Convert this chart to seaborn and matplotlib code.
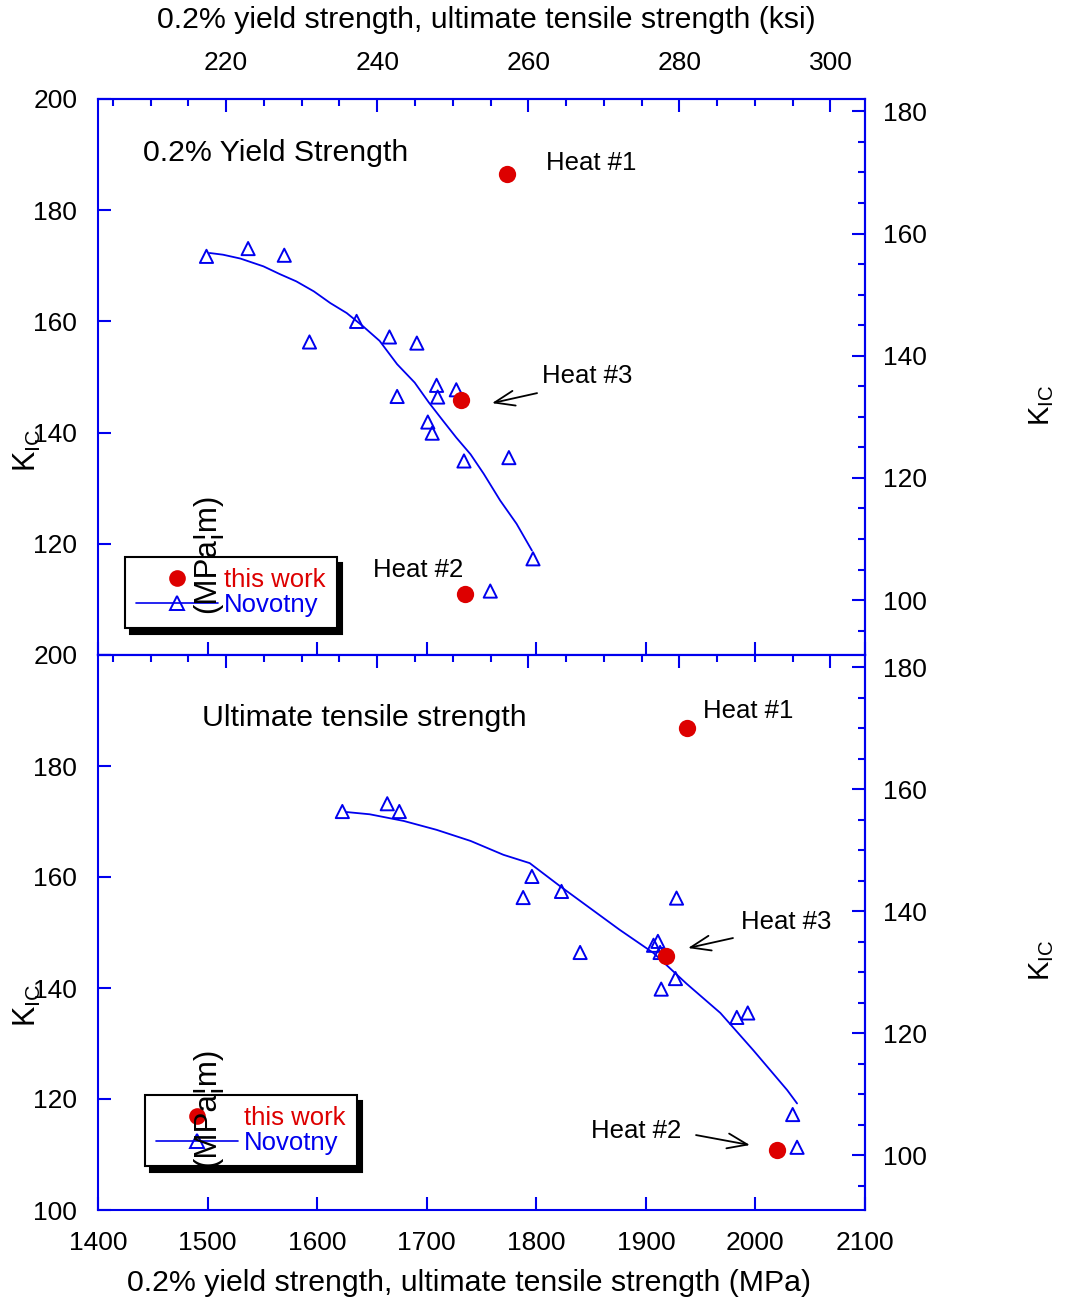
import matplotlib
matplotlib.use("Agg")
import matplotlib.pyplot as plt
import seaborn as sns
from matplotlib.ticker import MultipleLocator, FuncFormatter, NullFormatter
from matplotlib.lines import Line2D

# ---------------- data ----------------
# Upper panel: K_IC vs 0.2% yield strength (MPa)
ys_novotny_mpa = [1499, 1537, 1570, 1593, 1636, 1666, 1691, 1673, 1709, 1710,
                  1727, 1701, 1705, 1734, 1775, 1797, 1758]
ys_novotny_kic = [171.7, 173.1, 171.9, 156.3, 160.0, 157.2, 156.1, 146.5, 148.5, 146.4,
                  147.7, 141.9, 139.9, 134.9, 135.5, 117.3, 111.5]
ys_fit_mpa = [1502, 1514, 1530, 1551, 1566, 1581, 1597, 1612, 1627, 1642, 1657,
              1673, 1689, 1702, 1715, 1727, 1740, 1752, 1767, 1782, 1796]
ys_fit_kic = [172.3, 172.0, 171.3, 169.9, 168.5, 167.2, 165.4, 163.3, 161.5, 159.1, 156.5,
              152.3, 149.0, 145.4, 142.1, 139.1, 136.1, 132.6, 127.8, 123.6, 118.8]
ys_this_mpa = [1773, 1731, 1735]
ys_this_kic = [186.6, 145.8, 110.9]

# Lower panel: K_IC vs ultimate tensile strength (MPa)
uts_novotny_mpa = [1623, 1664, 1675, 1796, 1788, 1823, 1928, 1840, 1907, 1911,
                   1913, 1927, 1914, 1983, 1993, 2034, 2038]
uts_novotny_kic = [171.8, 173.2, 171.8, 160.1, 156.3, 157.4, 156.2, 146.4, 147.7, 148.4,
                   146.4, 141.7, 139.8, 134.7, 135.5, 117.2, 111.3]
uts_fit_mpa = [1627, 1648, 1679, 1709, 1740, 1770, 1794, 1822, 1849, 1876, 1907,
               1937, 1968, 1998, 2029, 2038]
uts_fit_kic = [171.7, 171.3, 170.1, 168.5, 166.5, 164.0, 162.5, 158.3, 154.4, 150.5, 146.3,
               140.8, 135.5, 128.8, 121.6, 119.2]
uts_this_mpa = [1938, 1918, 2020]
uts_this_kic = [186.8, 145.8, 110.8]

panel_titles = ["0.2% Yield Strength", "Ultimate tensile strength"]
legend_labels = ["this work", "Novotny"]
heat_labels = ["Heat #1", "Heat #3", "Heat #2"]
xticks_mpa = [1400, 1500, 1600, 1700, 1800, 1900, 2000, 2100]

# ---------------- style ----------------
sns.set_style("white")
plt.rcParams["font.family"] = ["Liberation Sans", "DejaVu Sans"]
plt.rcParams["text.color"] = "black"
plt.rcParams["axes.labelcolor"] = "black"
plt.rcParams["mathtext.fontset"] = "custom"
plt.rcParams["mathtext.rm"] = "Liberation Sans"
plt.rcParams["mathtext.it"] = "Liberation Sans:italic"
plt.rcParams["mathtext.bf"] = "Liberation Sans:bold"

BLUE = "#0000ee"
RED = "#dd0000"
W, H = 1067, 1304
MPA_PER_KSI = 6.895
MPAM_PER_KSIIN = 1.0988
TICKFS = 19

fig = plt.figure(figsize=(W / 100, H / 100), dpi=100)


def px_rect(x0, y0, x1, y1):
    return [x0 / W, 1 - y1 / H, (x1 - x0) / W, (y1 - y0) / H]


ax1 = fig.add_axes(px_rect(98, 99, 865, 655))
ax2 = fig.add_axes(px_rect(98, 655, 865, 1210))

TICK = dict(direction="in", colors=BLUE, labelcolor="black", labelsize=TICKFS, width=1.5)


def style_panel(ax, bottom_labels, top_labels, hide_100):
    ax.set_xlim(1400, 2100)
    ax.set_ylim(100, 200)
    ax.set_xticks(xticks_mpa)
    ax.xaxis.set_minor_locator(MultipleLocator(20))
    ax.yaxis.set_major_locator(MultipleLocator(20))
    ax.yaxis.set_minor_locator(MultipleLocator(5))
    ax.set_xlabel("")
    ax.set_ylabel("")
    for s in ax.spines.values():
        s.set_color(BLUE)
        s.set_linewidth(1.5)
    ax.tick_params(axis="x", which="major", length=9.5, pad=15, **TICK)
    ax.tick_params(axis="y", which="major", length=9.5, pad=15, **TICK)
    ax.tick_params(axis="both", which="minor", length=5, **TICK)
    ax.tick_params(top=False, right=False, bottom=True, left=True,
                   labelbottom=bottom_labels)
    if hide_100:
        ax.yaxis.set_major_formatter(
            FuncFormatter(lambda v, p: "" if v < 110 else f"{v:.0f}"))
    # top axis in ksi
    sec = ax.secondary_xaxis("top", functions=(lambda m: m / MPA_PER_KSI,
                                                lambda k: k * MPA_PER_KSI))
    sec.xaxis.set_major_locator(MultipleLocator(20))
    sec.xaxis.set_minor_locator(MultipleLocator(5))
    sec.tick_params(axis="x", which="major", length=9.5, pad=17, **TICK)
    sec.tick_params(axis="x", which="minor", length=5, **TICK)
    if not top_labels:
        sec.xaxis.set_major_formatter(NullFormatter())
    for s in sec.spines.values():
        s.set_color(BLUE)
        s.set_linewidth(1.5)
    # right axis in ksi*sqrt(in)
    secy = ax.secondary_yaxis("right", functions=(lambda v: v / MPAM_PER_KSIIN,
                                                   lambda v: v * MPAM_PER_KSIIN))
    secy.yaxis.set_major_locator(MultipleLocator(20))
    secy.yaxis.set_minor_locator(MultipleLocator(5))
    secy.tick_params(axis="y", which="major", length=9.5, pad=13, **TICK)
    secy.tick_params(axis="y", which="minor", length=5, **TICK)
    for s in secy.spines.values():
        s.set_color(BLUE)
        s.set_linewidth(1.5)


def draw_data(ax, fit_x, fit_y, nov_x, nov_y, this_x, this_y):
    sns.lineplot(x=fit_x, y=fit_y, sort=False, estimator=None, color=BLUE,
                 linewidth=1.3, ax=ax, zorder=2)
    sns.scatterplot(x=nov_x, y=nov_y, marker="^", s=90, facecolor="none",
                    edgecolor=BLUE, linewidth=1.4, ax=ax, zorder=3)
    sns.scatterplot(x=this_x, y=this_y, marker="o", s=155, color=RED,
                    edgecolor=RED, linewidth=0, ax=ax, zorder=4)


draw_data(ax1, ys_fit_mpa, ys_fit_kic, ys_novotny_mpa, ys_novotny_kic,
          ys_this_mpa, ys_this_kic)
draw_data(ax2, uts_fit_mpa, uts_fit_kic, uts_novotny_mpa, uts_novotny_kic,
          uts_this_mpa, uts_this_kic)

style_panel(ax1, bottom_labels=False, top_labels=True, hide_100=True)
style_panel(ax2, bottom_labels=True, top_labels=False, hide_100=False)

# panel titles
ax1.text(1441, 190.3, panel_titles[0], fontsize=21.8, va="center", ha="left")
ax2.text(1495, 188.6, panel_titles[1], fontsize=21.8, va="center", ha="left")

ARROW = dict(arrowstyle="->,head_length=0.8,head_width=0.3", color="black",
             lw=1.3, mutation_scale=18, shrinkA=0, shrinkB=0)
HFS = 18.5
# upper annotations
ax1.text(1809, 188.5, heat_labels[0], fontsize=HFS, va="center", ha="left")
ax1.text(1805, 150.2, heat_labels[1], fontsize=HFS, va="center", ha="left")
ax1.annotate("", xy=(1759.6, 145.3), xytext=(1800.7, 147.1), arrowprops=ARROW)
ax1.text(1651, 115.2, heat_labels[2], fontsize=HFS, va="center", ha="left")
# lower annotations
ax2.text(1952, 189.9, heat_labels[0], fontsize=HFS, va="center", ha="left")
ax2.text(1987, 151.9, heat_labels[1], fontsize=HFS, va="center", ha="left")
ax2.annotate("", xy=(1938.5, 147.2), xytext=(1979.5, 149.0), arrowprops=ARROW)
ax2.text(1850, 114.2, heat_labels[2], fontsize=HFS, va="center", ha="left")
ax2.annotate("", xy=(1995, 111.7), xytext=(1945.8, 113.5), arrowprops=ARROW)

# legends
handles = [
    Line2D([], [], marker="o", linestyle="none", color=RED, markersize=12,
           markeredgewidth=0),
    Line2D([], [], marker="^", color=BLUE, linewidth=1.2, markersize=9.5,
           markerfacecolor="none", markeredgecolor=BLUE, markeredgewidth=1.4),
]
for ax, anchor in ((ax1, (0.035, 0.176)), (ax2, (0.061, 0.207))):
    leg = ax.legend(handles, legend_labels, loc="upper left", bbox_to_anchor=anchor,
                    borderaxespad=0, fontsize=18.5, handlelength=3.2,
                    handletextpad=0.25, labelspacing=0.05, borderpad=0.42,
                    fancybox=False, frameon=True, numpoints=1,
                    shadow={"ox": 4, "oy": -4, "facecolor": "black",
                            "edgecolor": "black", "alpha": 1},
                    labelcolor=[RED, BLUE])
    fr = leg.get_frame()
    fr.set_edgecolor("black")
    fr.set_linewidth(1.5)
    fr.set_alpha(1)
    leg.set_zorder(5)


def fx(x):
    return x / W


def fy(y):
    return 1 - y / H


# axis titles
fig.text(fx(486), fy(20), "0.2% yield strength, ultimate tensile strength (ksi)",
         fontsize=21.8, ha="center", va="center")
fig.text(fx(469), fy(1283), "0.2% yield strength, ultimate tensile strength (MPa)",
         fontsize=21.8, ha="center", va="center")

KLAB = r"K$_{\mathrm{IC}}$"
for yc in (450, 1005):
    fig.text(fx(27), fy(yc), KLAB, fontsize=22, rotation=90, ha="center", va="center")
for yc in (553, 1107):
    fig.text(fx(207), fy(yc), "(MPa\u00a6m)", fontsize=22.5, rotation=90,
             ha="center", va="center", zorder=10)
for yc in (405, 960):
    fig.text(fx(1042), fy(yc), KLAB, fontsize=21, rotation=90, ha="center", va="center")

fig.savefig("out.png", dpi=100)
